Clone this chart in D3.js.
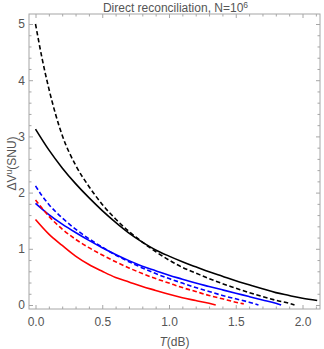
<!DOCTYPE html>
<html><head><meta charset="utf-8">
<script src="https://cdn.jsdelivr.net/npm/d3@7"></script>
<style>
html,body{margin:0;padding:0;background:#fff;}
svg{display:block;font-family:"Liberation Sans",Arial,sans-serif;}
</style></head>
<body>
<script>
// ---- data ----
const titleText = "Direct reconciliation, N=10";
const titleSup = "6";
const xMajorTicks = [0, 0.5, 1.0, 1.5, 2.0];
const yMajorTicks = [0, 1, 2, 3, 4, 5];

const blackDashedT = [0, 0.05, 0.1, 0.2, 0.3, 0.4, 0.5, 0.6, 0.7, 0.8, 0.9, 1.0, 1.1, 1.2, 1.3, 1.4, 1.5, 1.6, 1.7, 1.8, 1.9, 1.94];
const blackDashedV = [5.0, 4.38, 3.85, 3.02, 2.49, 2.11, 1.79, 1.53, 1.31, 1.12, 0.95, 0.80, 0.67, 0.57, 0.47, 0.38, 0.30, 0.22, 0.15, 0.085, 0.03, 0.0];

const blackSolidT = [0, 0.1, 0.2, 0.3, 0.4, 0.5, 0.6, 0.7, 0.8, 0.9, 1.0, 1.1, 1.2, 1.3, 1.4, 1.5, 1.6, 1.7, 1.8, 1.9, 2.0, 2.11];
const blackSolidV = [3.13, 2.76, 2.44, 2.16, 1.91, 1.68, 1.47, 1.28, 1.12, 0.98, 0.87, 0.77, 0.68, 0.59, 0.51, 0.43, 0.36, 0.29, 0.22, 0.17, 0.12, 0.08];

const blueDashedT = [0, 0.05, 0.1, 0.2, 0.3, 0.4, 0.5, 0.6, 0.7, 0.8, 0.9, 1.0, 1.1, 1.2, 1.3, 1.4, 1.5, 1.6, 1.67];
const blueDashedV = [2.12, 1.94, 1.79, 1.55, 1.35, 1.18, 1.03, 0.89, 0.77, 0.66, 0.56, 0.47, 0.39, 0.31, 0.24, 0.17, 0.11, 0.05, 0.0];

const blueSolidT = [0, 0.1, 0.2, 0.3, 0.4, 0.5, 0.6, 0.7, 0.8, 0.9, 1.0, 1.1, 1.2, 1.3, 1.4, 1.5, 1.6, 1.7, 1.8, 1.84];
const blueSolidV = [1.81, 1.61, 1.44, 1.29, 1.15, 1.02, 0.90, 0.79, 0.69, 0.61, 0.53, 0.46, 0.39, 0.33, 0.27, 0.21, 0.15, 0.09, 0.03, 0.0];

const redDashedT = [0, 0.1, 0.2, 0.3, 0.4, 0.5, 0.6, 0.7, 0.8, 0.9, 1.0, 1.1, 1.2, 1.3, 1.4, 1.5, 1.56];
const redDashedV = [1.87, 1.58, 1.35, 1.17, 1.02, 0.89, 0.77, 0.66, 0.56, 0.47, 0.39, 0.31, 0.24, 0.17, 0.11, 0.05, 0.02];

const redSolidT = [0, 0.1, 0.2, 0.3, 0.4, 0.5, 0.6, 0.7, 0.8, 0.9, 1.0, 1.1, 1.2, 1.3, 1.35];
const redSolidV = [1.52, 1.26, 1.06, 0.87, 0.72, 0.60, 0.49, 0.41, 0.33, 0.26, 0.19, 0.13, 0.08, 0.03, 0.0];

const seriesList = [
  {t: blackDashedT, v: blackDashedV, color: "#000000", dashed: true},
  {t: blackSolidT,  v: blackSolidV,  color: "#000000", dashed: false},
  {t: blueDashedT,  v: blueDashedV,  color: "#0000ff", dashed: true},
  {t: blueSolidT,   v: blueSolidV,   color: "#0000ff", dashed: false},
  {t: redDashedT,   v: redDashedV,   color: "#ff0000", dashed: true},
  {t: redSolidT,    v: redSolidV,    color: "#ff0000", dashed: false}
];

// ---- layout ----
const W = 324, H = 349;
const L = 29, R = 320, T = 14, B = 309;
const frameColor = "#a6a6a6";
const textColor = "#555555";

const x = d3.scaleLinear().domain([-0.0487, 2.131]).range([L, R]);
const y = d3.scaleLinear().domain([-0.071, 5.178]).range([B, T]);

const xMinor = d3.range(0, 22).map(i => i / 10).filter(v => !xMajorTicks.some(m => Math.abs(m - v) < 1e-9));
const yMinor = d3.range(0, 26).map(i => i / 5).filter(v => !yMajorTicks.some(m => Math.abs(m - v) < 1e-9));

const svg = d3.select("body").append("svg").attr("width", W).attr("height", H);

svg.append("defs").append("clipPath").attr("id", "clip")
  .append("rect").attr("x", L).attr("y", T).attr("width", R - L).attr("height", B - T);

// curves
const line = d3.line().x(d => x(d[0])).y(d => y(d[1])).curve(d3.curveMonotoneX);
const g = svg.append("g").attr("clip-path", "url(#clip)");
seriesList.forEach(s => {
  const pts = s.t.map((t, i) => [t, s.v[i]]);
  g.append("path").datum(pts)
    .attr("d", line)
    .attr("fill", "none")
    .attr("stroke", s.color)
    .attr("stroke-width", 1.6)
    .attr("stroke-dasharray", s.dashed ? "4.5,2.6" : null);
});

// axes
function styleAxis(sel, labels) {
  sel.select(".domain").remove();
  sel.selectAll(".tick line").attr("stroke", frameColor).attr("stroke-width", 1);
  sel.selectAll(".tick text").attr("fill", textColor).attr("font-size", 12)
    .attr("font-family", "'Liberation Sans', Arial, sans-serif");
  if (!labels) sel.selectAll(".tick text").remove();
}
function addAxis(axisFn, scale, transform, values, size, labels, pad) {
  const a = axisFn(scale).tickValues(values).tickSize(size).tickPadding(pad || 3);
  if (labels) a.tickFormat(labels); else a.tickFormat("");
  const sel = svg.append("g").attr("transform", transform).call(a);
  styleAxis(sel, !!labels);
}
const fmtX = d3.format(".1f");
const fmtY = d3.format("d");
addAxis(d3.axisBottom, x, `translate(0,${B})`, xMajorTicks, -4, fmtX, 8);
addAxis(d3.axisBottom, x, `translate(0,${B})`, xMinor, -2.5, null);
addAxis(d3.axisTop, x, `translate(0,${T})`, xMajorTicks, -4, null);
addAxis(d3.axisTop, x, `translate(0,${T})`, xMinor, -2.5, null);
addAxis(d3.axisLeft, y, `translate(${L},0)`, yMajorTicks, -4, fmtY, 4);
addAxis(d3.axisLeft, y, `translate(${L},0)`, yMinor, -2.5, null);
addAxis(d3.axisRight, y, `translate(${R},0)`, yMajorTicks, -4, null);
addAxis(d3.axisRight, y, `translate(${R},0)`, yMinor, -2.5, null);

// frame
svg.append("rect").attr("x", L).attr("y", T).attr("width", R - L).attr("height", B - T)
  .attr("fill", "none").attr("stroke", frameColor).attr("stroke-width", 1);

// title
const title = svg.append("text").attr("x", (L + R) / 2 + 1).attr("y", 12)
  .attr("text-anchor", "middle").attr("fill", textColor).attr("font-size", 12);
title.append("tspan").text(titleText);
title.append("tspan").attr("dy", -4).attr("font-size", 8.5).text(titleSup);

// x label
const xl = svg.append("text").attr("x", (L + R) / 2).attr("y", 346)
  .attr("text-anchor", "middle").attr("fill", textColor).attr("font-size", 12);
xl.append("tspan").attr("font-style", "italic").text("T");
xl.append("tspan").text("(dB)");

// y label
const yl = svg.append("text").attr("transform", `translate(15.5,${(T + B) / 2 + 2}) rotate(-90)`)
  .attr("text-anchor", "middle").attr("fill", textColor).attr("font-size", 12);
yl.append("tspan").text("\u0394V");
yl.append("tspan").attr("dy", -4).attr("font-size", 8.5).text("u");
yl.append("tspan").attr("dy", 4).text("(SNU)");
</script>
</body></html>
